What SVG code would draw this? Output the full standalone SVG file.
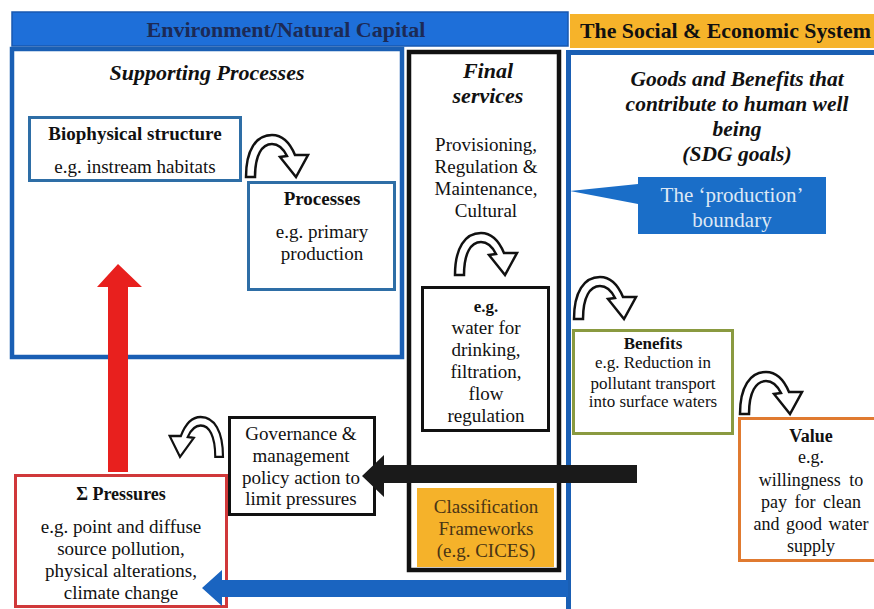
<svg xmlns="http://www.w3.org/2000/svg" width="874" height="609" viewBox="0 0 874 609" font-family="'Liberation Serif', 'DejaVu Serif', serif">
<style>
text{font-family:'Liberation Serif','DejaVu Serif',serif;text-anchor:middle;fill:#111}
.b{font-weight:bold}
.bi{font-weight:bold;font-style:italic}
.t19{font-size:19px}
.t18{font-size:18px}
.t17{font-size:17px}
.box{fill:#fff;stroke-width:3}
.curl{fill:#fff;stroke:#111;stroke-width:2.5;stroke-linejoin:miter}
</style>
<defs>
<path id="curl" d="M0,42 C0,15 10,0 26,0 C37,0 44,8 49,20 L62,20 L50,42 L34,22 L41,21 C37,13 33,9 26,9 C16,9 9,20 9,42 Z"/>
</defs>
<rect width="874" height="609" fill="#fff"/>

<g id="env-header">
<rect x="12" y="12" width="556" height="34" fill="#1e6fd9" stroke="#1858b0" stroke-width="1.5"/>
<text x="286" y="37" class="b" style="font-size:22px;fill:#1c2a55">Environment/Natural Capital</text>
</g>
<g id="social-header">
<rect x="570" y="14" width="310" height="34" fill="#f6b32a"/>
<text x="580" y="38" class="b" style="font-size:21.5px;text-anchor:start" textLength="291" lengthAdjust="spacingAndGlyphs">The Social &amp; Economic System</text>
</g>

<g id="social-system">
<rect x="568.5" y="52.5" width="320" height="600" fill="#fff" stroke="#1a5fb4" stroke-width="5"/>
<text x="737" y="86" class="bi" style="font-size:21.5px">Goods and Benefits that</text>
<text x="737" y="111" class="bi" style="font-size:21.5px">contribute to human well</text>
<text x="737" y="136" class="bi" style="font-size:21.5px">being</text>
<text x="737" y="161" class="bi" style="font-size:21.5px">(SDG goals)</text>
</g>

<g id="supporting-processes">
<rect x="12" y="49" width="390" height="308" fill="#fff" stroke="#1a5fb4" stroke-width="4.5"/>
<text x="207" y="80" class="bi" style="font-size:22px">Supporting Processes</text>
</g>

<g id="biophysical">
<rect class="box" x="29.5" y="117.5" width="211" height="63" stroke="#2e6ea6"/>
<text x="135" y="140" class="b t19">Biophysical structure</text>
<text x="135" y="173" class="t19">e.g. instream habitats</text>
</g>

<g id="processes">
<rect class="box" x="248.5" y="182.5" width="146" height="107" stroke="#2e6ea6"/>
<text x="322" y="205" class="b t19">Processes</text>
<text x="322" y="238" class="t19">e.g. primary</text>
<text x="322" y="260" class="t19">production</text>
</g>

<g id="final-services">
<rect x="409" y="52" width="150" height="518" fill="#fff" stroke="#111" stroke-width="4.5"/>
<text x="488" y="78" class="bi" style="font-size:22px">Final</text>
<text x="488" y="103" class="bi" style="font-size:22px">services</text>
<text x="486" y="151" class="t19">Provisioning,</text>
<text x="486" y="173" class="t19">Regulation &amp;</text>
<text x="486" y="195" class="t19">Maintenance,</text>
<text x="486" y="217" class="t19">Cultural</text>
</g>

<g id="final-example">
<rect class="box" x="422.5" y="287.5" width="126" height="143" stroke="#111"/>
<text x="486" y="312" class="b t17">e.g.</text>
<text x="486" y="334" class="t19">water for</text>
<text x="486" y="356" class="t19">drinking,</text>
<text x="486" y="378" class="t19">filtration,</text>
<text x="486" y="400" class="t19">flow</text>
<text x="486" y="422" class="t19">regulation</text>
</g>

<g id="classification">
<rect x="417" y="488" width="137" height="79" fill="#f5b22a"/>
<text x="486" y="513" class="t19" style="fill:#4a3515">Classification</text>
<text x="486" y="535" class="t19" style="fill:#4a3515">Frameworks</text>
<text x="486" y="557" class="t19" style="fill:#4a3515">(e.g. CICES)</text>
</g>

<g id="production-boundary">
<path d="M638,177 H826 V234 H638 V204 L570,191 L638,184 Z" fill="#1a6ec8"/>
<text x="732" y="202" style="font-size:21px;fill:#dde8f5">The ‘production’</text>
<text x="732" y="227" style="font-size:21px;fill:#dde8f5">boundary</text>
</g>

<g id="benefits">
<rect class="box" x="573.5" y="330.5" width="159" height="103" stroke="#8a9a40"/>
<text x="653" y="349" class="b t17">Benefits</text>
<text x="653" y="368" class="t17">e.g. Reduction in</text>
<text x="653" y="389" class="t17">pollutant transport</text>
<text x="653" y="407" class="t17">into surface waters</text>
</g>

<g id="value">
<rect class="box" x="739.5" y="418.5" width="150" height="142" stroke="#e07a30"/>
<text x="811" y="442" class="b t18">Value</text>
<text x="811" y="463" class="t18">e.g.</text>
<text x="811" y="486" class="t18" word-spacing="4">willingness to</text>
<text x="811" y="508" class="t18" word-spacing="3">pay for clean</text>
<text x="811" y="530" class="t18" word-spacing="2">and good water</text>
<text x="811" y="552" class="t18">supply</text>
</g>

<g id="governance">
<rect class="box" x="229.5" y="417.5" width="145" height="97" stroke="#111"/>
<text x="301" y="440" class="t19">Governance &amp;</text>
<text x="301" y="462" class="t19">management</text>
<text x="301" y="484" class="t19">policy action to</text>
<text x="301" y="505" class="t19">limit pressures</text>
</g>

<g id="pressures">
<rect class="box" x="15.5" y="475.5" width="211" height="131" stroke="#d0383a"/>
<text x="121" y="500" class="b t18">Σ Pressures</text>
<text x="121" y="533" class="t19">e.g. point and diffuse</text>
<text x="121" y="555" class="t19">source pollution,</text>
<text x="121" y="577" class="t19">physical alterations,</text>
<text x="121" y="599" class="t19">climate change</text>
</g>

<g id="connectors">
<polygon points="108,472 108,287 97,287 118,264 142,287 128,287 128,472" fill="#e8201e"/>
<polygon points="637,465 384,465 384,455 362,476 384,497 384,483 637,483" fill="#1a1a1a"/>
<polygon points="568,580 222,580 222,570 202,588 222,606 222,597 568,597" fill="#1a64c0"/>
<use href="#curl" class="curl" transform="translate(246,135)"/>
<use href="#curl" class="curl" transform="translate(455,233)"/>
<use href="#curl" class="curl" transform="translate(574,277)"/>
<use href="#curl" class="curl" transform="translate(740,372)"/>
<use href="#curl" class="curl" transform="translate(223,417) scale(-0.86,0.95)"/>
</g>
</svg>
